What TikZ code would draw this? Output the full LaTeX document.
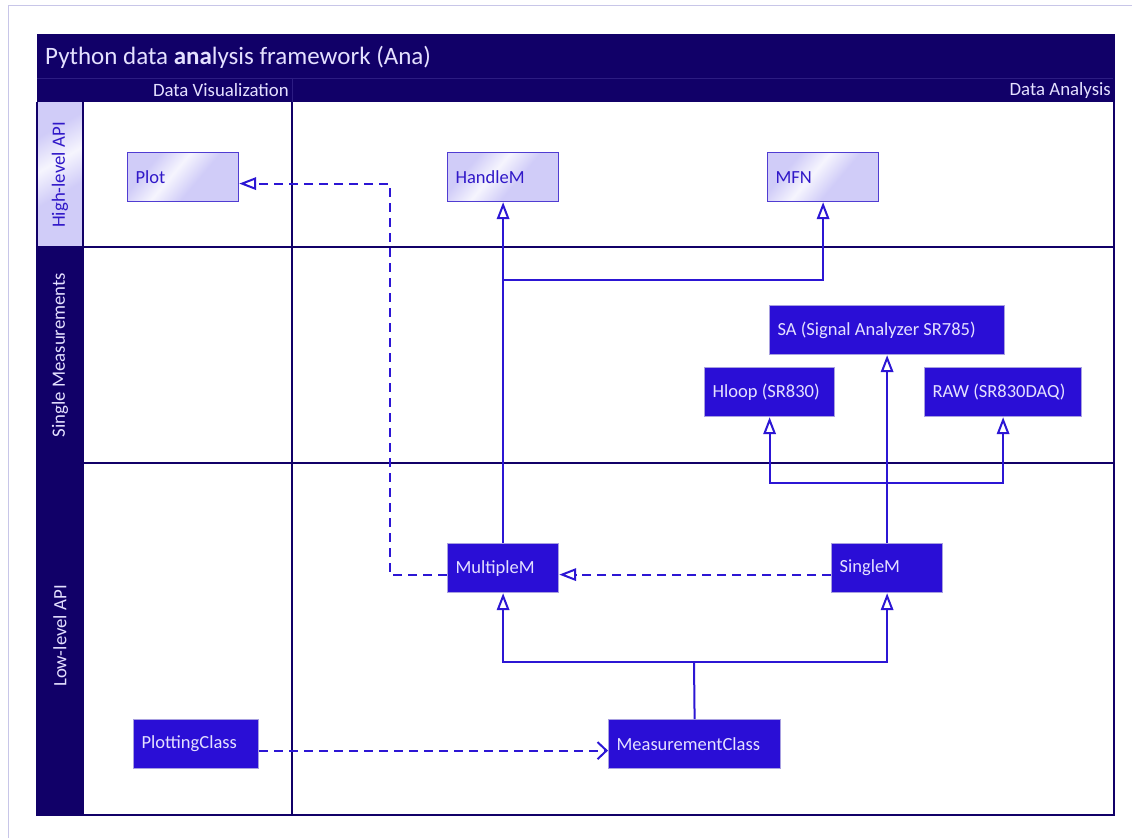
\documentclass[tikz,border=0pt]{standalone}
\usepackage{fontspec}
\setmainfont{Carlito}
\usetikzlibrary{arrows.meta,calc}

\definecolor{navy}{RGB}{17,0,104}
\definecolor{navysoft}{RGB}{44,28,130}
\definecolor{royal}{RGB}{42,14,214}
\definecolor{wire}{RGB}{44,22,212}
\definecolor{lav}{RGB}{208,204,248}
\definecolor{pale}{RGB}{228,224,255}
\definecolor{edge}{RGB}{80,60,210}
\definecolor{lavgrey}{RGB}{168,160,224}
\definecolor{pageframe}{RGB}{200,198,232}
\definecolor{ink}{RGB}{48,24,200}

% lavender fill with a pale diagonal band, used by the high-level classes
\pgfdeclarehorizontalshading{softband}{100bp}{%
  color(0bp)=(lav); color(30bp)=(lav); color(44bp)=(white!80!lav);
  color(58bp)=(lav); color(100bp)=(lav)}

\tikzset{
  base/.style={rectangle, inner xsep=8pt, inner ysep=0pt, minimum height=49pt,
    align=flush left, anchor=north west, font=\fontsize{18.5}{22}\selectfont},
  softbox/.style={base, draw=edge, line width=1.2pt, text=ink,
    shading=softband, shading angle=-40},
  solidbox/.style={base, draw=lavgrey, line width=1.2pt, fill=royal, text=pale},
  inherit/.style={draw=wire, line width=2pt,
    -{Triangle[open, length=17pt, width=12.5pt, line width=2pt]}},
  realize/.style={inherit, dash pattern=on 9pt off 6pt},
  usesdep/.style={draw=wire, line width=2pt, dash pattern=on 9pt off 6pt,
    -{Straight Barb[length=9pt, width=17pt, line width=2pt]}},
  plainwire/.style={draw=wire, line width=2pt},
  laneline/.style={draw=navy, line width=2pt},
  lanetext/.style={font=\fontsize{18.8}{23}\selectfont, text=pale, inner sep=0pt},
}

\begin{document}
\begin{tikzpicture}[x=1pt, y=-1pt]
  \useasboundingbox (0,0) rectangle (1132,838);
  \fill[white] (0,0) rectangle (1132,838);

  % page frame (top and left edges only)
  \draw[pageframe, line width=1pt] (8,838) -- (8,5) -- (1132,5);

  % title bar and column headers
  \fill[navy] (37,34) rectangle (1114,102);
  \draw[navysoft, line width=1pt] (37,78) -- (1114,78);
  \draw[navysoft, line width=1pt] (292,78) -- (292,102);
  \node[anchor=west, font=\fontsize{25}{29}\selectfont, text=pale, inner sep=0pt]
    (title) at (45,57) {Python data \textbf{ana}lysis framework (Ana)};
  \node[lanetext, anchor=east] (colvis) at (289,90) {Data Visualization};
  \node[lanetext, anchor=east] (colana) at (1111,90) {Data Analysis};

  % lane headers
  \shade[shading=softband, shading angle=-60] (37,102) rectangle (83,247);
  \fill[navy] (37,247) rectangle (83,815);
  \node[lanetext, text=ink, rotate=90] (lanehigh) at (60,175) {High-level API};
  \node[lanetext, rotate=90] (lanesingle) at (60,355) {Single Measurements};
  \node[lanetext, rotate=90] (lanelow) at (60,636) {Low-level API};

  % lane grid
  \draw[laneline] (37,102) -- (37,815) -- (1114,815) -- (1114,34);
  \draw[laneline] (83,102) -- (83,815);
  \draw[laneline] (292,102) -- (292,815);
  \draw[laneline] (37,247) -- (1114,247);
  \draw[laneline] (37,463) -- (1114,463);

  % classes
  \node[softbox, minimum width=111pt, text width=95pt] (plot) at (127,152) {Plot};
  \node[softbox, minimum width=111pt, text width=95pt] (handlem) at (447,152) {HandleM};
  \node[softbox, minimum width=111pt, text width=95pt] (mfn) at (767,152) {MFN};
  \node[solidbox, minimum width=235pt, text width=219pt] (sa) at (769,305) {SA (Signal Analyzer SR785)};
  \node[solidbox, minimum width=130pt, text width=114pt] (hloop) at (704,367) {Hloop (SR830)};
  \node[solidbox, minimum width=157pt, text width=141pt] (raw) at (924,367) {RAW (SR830DAQ)};
  \node[solidbox, minimum width=111pt, text width=95pt] (multiplem) at (447,543) {MultipleM};
  \node[solidbox, minimum width=111pt, text width=95pt] (singlem) at (831,543) {SingleM};
  \node[solidbox, minimum width=125pt, text width=109pt] (plotting) at (133,719) {PlottingClass};
  \node[solidbox, minimum width=172pt, text width=156pt] (measure) at (608,719) {MeasurementClass};

  % junction points of the generalisation trees
  \coordinate (hjoin) at (502.5,280);
  \coordinate (sjoin) at (886.5,483);
  \coordinate (mjoin) at (694,662);

  % generalisations
  \draw[inherit] (multiplem.north) -- (handlem.south);
  \draw[inherit] (hjoin) -| (mfn.south);
  \draw[inherit] (singlem.north) -- (sa.south);
  \draw[inherit] (sjoin) -| (hloop.south);
  \draw[inherit] (sjoin) -| (raw.south);
  \draw[plainwire] (measure.north) -- (mjoin);
  \draw[inherit] (mjoin) -| (multiplem.south);
  \draw[inherit] (mjoin) -| (singlem.south);

  % realisations and dependencies
  \draw[realize] ([yshift=-6.5pt]singlem.west) -- ([yshift=-6.5pt]multiplem.east);
  \draw[realize] ([yshift=-6.5pt]multiplem.west) -- ++(-57,0) |- ([yshift=-6.5pt]plot.east);
  \draw[usesdep] ([yshift=-6.5pt]plotting.east) -- ([yshift=-6.5pt]measure.west);
\end{tikzpicture}
\end{document}
